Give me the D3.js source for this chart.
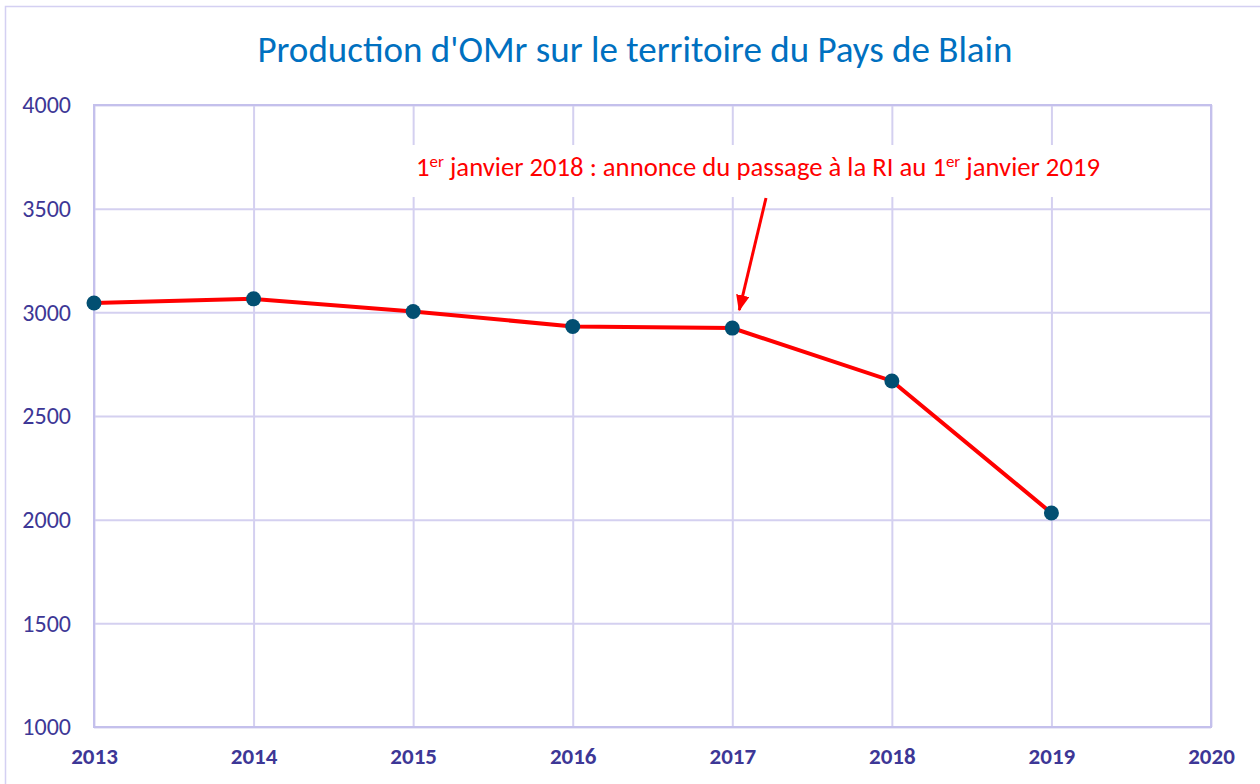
<!DOCTYPE html>
<html>
<head>
<meta charset="utf-8">
<script src="https://cdn.jsdelivr.net/npm/d3@7"></script>
<style>
  body { margin: 0; background: #fff; }
  svg { font-family: Carlito, Lato, "Open Sans", sans-serif; }
</style>
</head>
<body>
<svg class="chart"></svg>
<script>
// data
var years = [2013, 2014, 2015, 2016, 2017, 2018, 2019];
var tonnes = [3045, 3065, 3004, 2932, 2924, 2669, 2032];
var xTicks = [2013, 2014, 2015, 2016, 2017, 2018, 2019, 2020];
var yTicks = [1000, 1500, 2000, 2500, 3000, 3500, 4000];
var titleText = "Production d'OMr sur le territoire du Pays de Blain";

var W = 1260, H = 784;
var margin = {top: 105, right: 49, bottom: 57, left: 94},
    width = W - margin.left - margin.right,
    height = H - margin.top - margin.bottom;

var svg = d3.select(".chart")
    .attr("width", W)
    .attr("height", H);

// outer frame
svg.append("rect")
    .attr("x", 5.5).attr("y", 6.5)
    .attr("width", W + 10).attr("height", H + 10)
    .attr("fill", "none")
    .attr("stroke", "#d4d0f2")
    .attr("stroke-width", 1.5);

svg.append("text")
    .attr("x", 635).attr("y", 62)
    .attr("text-anchor", "middle")
    .attr("font-size", 37)
    .attr("fill", "#0070c0")
    .text(titleText);

var x = d3.scaleLinear().domain([2013, 2020]).range([0, width]);
var y = d3.scaleLinear().domain([1000, 4000]).range([height, 0]);

var chart = svg.append("g")
    .attr("transform", "translate(" + margin.left + "," + margin.top + ")");

// grid
chart.append("g")
    .call(d3.axisLeft(y).tickValues(yTicks).tickSize(-width).tickFormat(""))
    .call(function(g) { g.select(".domain").remove(); })
    .selectAll("line")
      .attr("stroke", "#d4d0f0")
      .attr("stroke-width", 2);

chart.append("g")
    .attr("transform", "translate(0," + height + ")")
    .call(d3.axisBottom(x).tickValues(xTicks).tickSize(-height).tickFormat(""))
    .call(function(g) { g.select(".domain").remove(); })
    .selectAll("line")
      .attr("stroke", "#d4d0f0")
      .attr("stroke-width", 2);

// plot border
chart.append("rect")
    .attr("width", width).attr("height", height)
    .attr("fill", "none")
    .attr("stroke", "#c4c0ec")
    .attr("stroke-width", 2);

// tick labels
chart.append("g")
    .call(d3.axisLeft(y).tickValues(yTicks).tickSize(0).tickPadding(23).tickFormat(d3.format("d")))
    .call(function(g) { g.select(".domain").remove(); })
    .selectAll("text")
      .attr("font-size", 24)
      .attr("font-family", "Carlito, Lato, sans-serif")
      .attr("fill", "#3d3796");

chart.append("g")
    .attr("transform", "translate(0," + height + ")")
    .call(d3.axisBottom(x).tickValues(xTicks).tickSize(0).tickPadding(21).tickFormat(d3.format("d")))
    .call(function(g) { g.select(".domain").remove(); })
    .selectAll("text")
      .attr("font-size", 23)
      .attr("font-weight", "bold")
      .attr("font-family", "Carlito, Lato, sans-serif")
      .attr("fill", "#3d3796");

// annotation box covers the grid
var note = chart.append("g");
note.append("rect")
    .attr("x", 405 - margin.left).attr("y", 145 - margin.top)
    .attr("width", 705).attr("height", 52)
    .attr("fill", "#fff");

var label = note.append("text")
    .attr("x", 758 - margin.left).attr("y", 176 - margin.top)
    .attr("text-anchor", "middle")
    .attr("font-size", 26.7)
    .attr("fill", "#ff0000");
label.append("tspan").text("1");
label.append("tspan").attr("font-size", 17).attr("dy", -9).text("er");
label.append("tspan").attr("dy", 9).text(" janvier 2018 : annonce du passage à la RI au 1");
label.append("tspan").attr("font-size", 17).attr("dy", -9).text("er");
label.append("tspan").attr("dy", 9).text(" janvier 2019");

svg.append("defs").append("marker")
    .attr("id", "arrow")
    .attr("viewBox", "0 0 10 10")
    .attr("refX", 9).attr("refY", 5)
    .attr("markerWidth", 5.5).attr("markerHeight", 4.5)
    .attr("orient", "auto")
    .attr("preserveAspectRatio", "none")
  .append("path")
    .attr("d", "M0,0L10,5L0,10z")
    .attr("fill", "#ff0000");

note.append("line")
    .attr("x1", 766 - margin.left).attr("y1", 198 - margin.top)
    .attr("x2", x(2017) + 7).attr("y2", 310 - margin.top)
    .attr("stroke", "#ff0000")
    .attr("stroke-width", 3)
    .attr("marker-end", "url(#arrow)");

// series
var data = years.map(function(d, i) { return {year: d, value: tonnes[i]}; });

chart.append("path")
    .datum(data)
    .attr("fill", "none")
    .attr("stroke", "#ff0000")
    .attr("stroke-width", 4)
    .attr("d", d3.line()
      .x(function(d) { return x(d.year); })
      .y(function(d) { return y(d.value); }));

chart.selectAll(".dot")
    .data(data)
  .enter().append("circle")
    .attr("class", "dot")
    .attr("cx", function(d) { return x(d.year); })
    .attr("cy", function(d) { return y(d.value); })
    .attr("r", 7.5)
    .attr("fill", "#024f72");
</script>
</body>
</html>
